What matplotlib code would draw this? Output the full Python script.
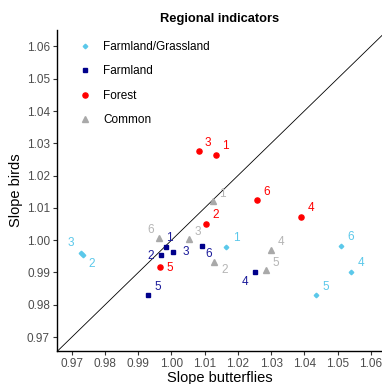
import matplotlib
matplotlib.use('Agg')
import matplotlib.pyplot as plt

plt.rcParams['font.family'] = ['Liberation Sans', 'DejaVu Sans']

# slopes per region (1-6)
region_ids = ['1', '2', '3', '4', '5', '6']

fg_butterflies = [1.0164, 0.9734, 0.9728, 1.0540, 1.0435, 1.0510]
fg_birds = [0.9979, 0.9953, 0.9960, 0.9900, 0.9831, 0.9981]

farm_butterflies = [0.9985, 0.9967, 1.0006, 1.0252, 0.9929, 1.0091]
farm_birds = [0.9979, 0.9955, 0.9964, 0.9900, 0.9831, 0.9981]

forest_butterflies = [1.0133, 1.0105, 1.0083, 1.0389, 0.9964, 1.0258]
forest_birds = [1.0265, 1.0050, 1.0276, 1.0073, 0.9916, 1.0126]

common_butterflies = [1.0124, 1.0127, 1.0053, 1.0301, 1.0285, 0.9963]
common_birds = [1.0122, 0.9934, 1.0003, 0.9969, 0.9907, 1.0008]

group_names = ['Farmland/Grassland', 'Farmland', 'Forest', 'Common']

# styling for each group
colors = ['#5BC8EA', '#00008B', '#FF0000', '#A9A9A9']
text_colors = ['#5BC8EA', '#1A1A9A', '#FF0000', '#B5B5B5']
markers = ['D', 's', 'o', '^']
sizes = [2.3, 3.5, 3.7, 4.3]

# label offsets in pixels (repel-like placement)
offsets = [
    [(10, 9), (9, -9), (-10, 10), (10, 9), (10, 8), (10, 9)],
    [(3, 9), (-10, -1), (12, 0), (-10, -10), (10, 8), (7, -8)],
    [(10, 9), (9, 9), (9, 8), (10, 9), (10, -1), (10, 8)],
    [(10, 7), (11, -8), (9, 7), (10, 8), (10, 7), (-9, 8)],
]

xs = [fg_butterflies, farm_butterflies, forest_butterflies, common_butterflies]
ys = [fg_birds, farm_birds, forest_birds, common_birds]

fig = plt.figure(figsize=(3.82, 3.84), dpi=100)
ax = fig.add_axes([0.149, 0.086, 0.851, 0.836])

xlim = (0.9655, 1.0634)
ylim = (0.9657, 1.0651)

# 1:1 line
ax.plot([0.9, 1.1], [0.9, 1.1], color='black', lw=0.6, zorder=1)

for i in range(4):
    ax.plot(xs[i], ys[i], linestyle='none', marker=markers[i], ms=sizes[i],
            color=colors[i], label=group_names[i], zorder=3)
    for j in range(6):
        dx, dy = offsets[i][j]
        ax.annotate(region_ids[j], (xs[i][j], ys[i][j]),
                    xytext=(dx * 0.72, dy * 0.72), textcoords='offset points',
                    ha='center', va='center', fontsize=8.5, color=text_colors[i])

ax.set_xlim(xlim)
ax.set_ylim(ylim)
ticks = [0.97, 0.98, 0.99, 1.00, 1.01, 1.02, 1.03, 1.04, 1.05, 1.06]
ax.set_xticks(ticks)
ax.set_yticks(ticks)
ax.set_xticklabels([f'{t:.2f}' for t in ticks])
ax.set_yticklabels([f'{t:.2f}' for t in ticks])
ax.tick_params(labelsize=8.5, labelcolor='#4D4D4D', color='#333333',
               length=3, width=0.8, pad=2)

for side in ['top', 'right']:
    ax.spines[side].set_visible(False)
for side in ['left', 'bottom']:
    ax.spines[side].set_linewidth(1.0)

ax.set_xlabel('Slope butterflies', fontsize=10.5, labelpad=1)
ax.set_ylabel('Slope birds', fontsize=10.5, labelpad=3)
ax.set_title('Regional indicators', fontsize=9.3, fontweight='bold', pad=6)

leg = ax.legend(loc='upper left', bbox_to_anchor=(0.055, 0.98), frameon=False,
                fontsize=8.5, labelspacing=1.05, handletextpad=1.0,
                handlelength=1.0, borderaxespad=0.0)

fig.savefig('out.png', dpi=100)
